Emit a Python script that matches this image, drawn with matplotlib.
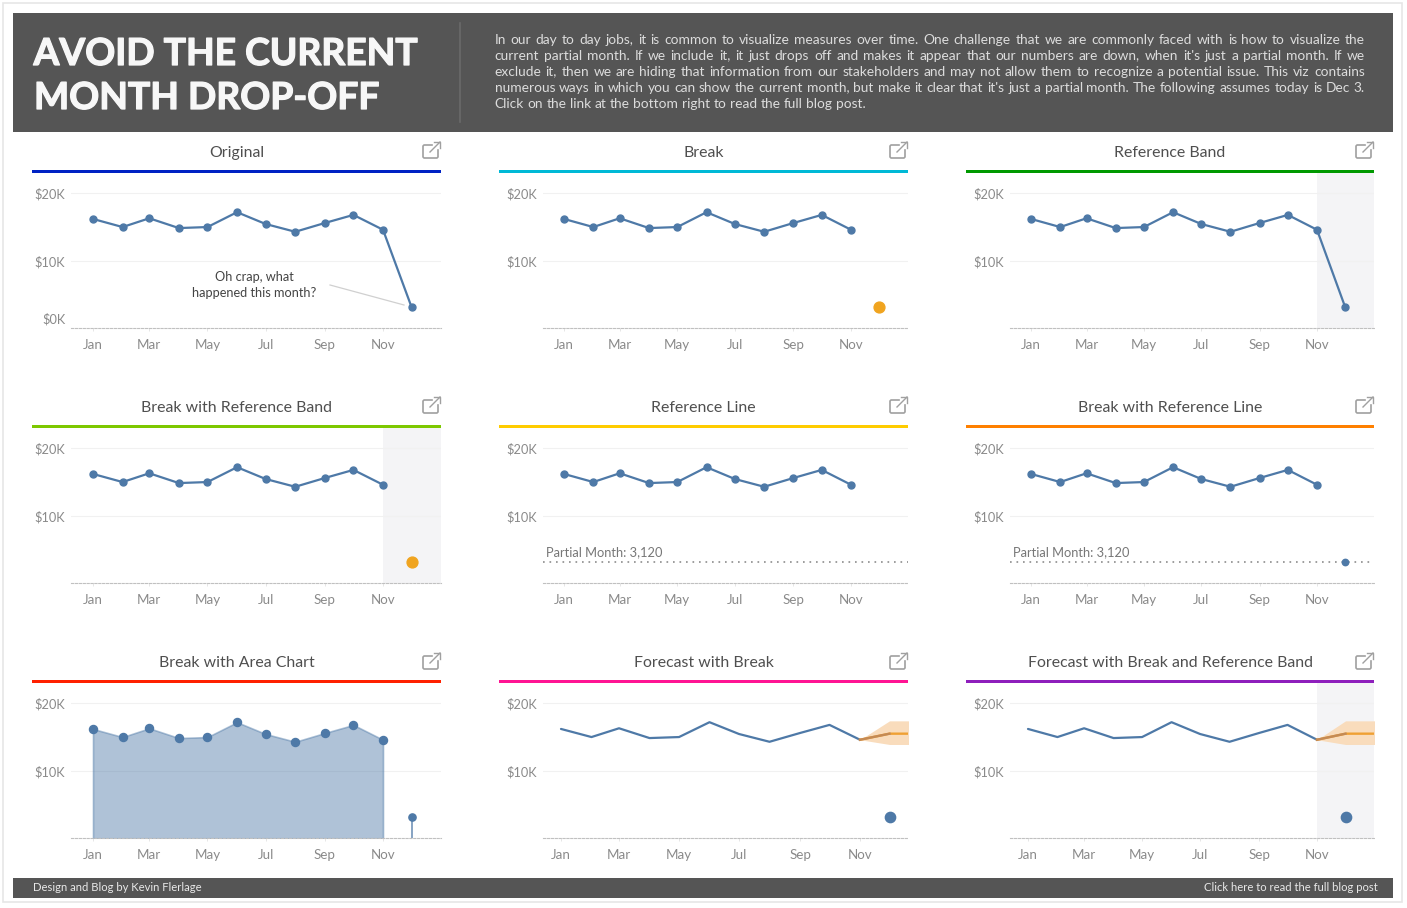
# Avoid the current month drop-off, 3x3 small multiples
import matplotlib
matplotlib.use("Agg")
import matplotlib.pyplot as plt
import matplotlib.patheffects as pe
from matplotlib.patches import Rectangle

# Data
month_days = [0, 31, 59, 90, 120, 151, 181, 212, 243, 273, 304, 334]
sales = [16.2, 15.0, 16.3, 14.85, 15.0, 17.2, 15.45, 14.3, 15.6, 16.8, 14.6, 3.12]
tick_days = [0, 59, 120, 181, 243, 304]
tick_labels = ["Jan", "Mar", "May", "Jul", "Sep", "Nov"]
forecast_days = [304, 334, 365]
forecast_mid = [14.6, 15.5, 15.5]
forecast_low = [14.6, 13.9, 13.9]
forecast_high = [14.6, 17.4, 17.4]
partial_month = 3.12

titles = ["Original", "Break", "Reference Band",
          "Break with Reference Band", "Reference Line", "Break with Reference Line",
          "Break with Area Chart", "Forecast with Break", "Forecast with Break and Reference Band"]
bar_colors = ["#0022c4", "#00b9d6", "#009900",
              "#7dc800", "#ffcc00", "#ff8000",
              "#ff2000", "#ff1493", "#8e1fbc"]

header_title = ["AVOID THE CURRENT", "MONTH DROP-OFF"]
header_lines = [
    "In our day to day jobs, it is common to visualize measures over time. One challenge that we are commonly faced with is how to visualize the",
    "current partial month. If we include it, it just drops off and makes it appear that our numbers are down, when it's just a partial month. If we",
    "exclude it, then we are hiding that information from our stakeholders and may not allow them to recognize a potential issue. This viz contains",
    "numerous ways in which you can show the current month, but make it clear that it's just a partial month. The following assumes today is Dec 3.",
    "Click on the link at the bottom right to read the full blog post.",
]

# Main Vars
W, H = 1407, 908
FONT = "Lato"
BLUE = "#4e79a7"
ORANGE = "#efa033"
DOT_ORANGE = "#f0a41f"
GREY_BAND = "#f4f4f6"
PX_PER_K = 6.75

# panel geometry, pixels: bar left, bar right, axis left, Jan x, Nov x
col_px = [(32, 441, 71, 93, 383), (499, 908, 543, 564, 851), (966, 1374, 1010, 1031, 1317)]
row_bar_top = [170, 425, 680]
row_base = [328.3, 583.3, 838.3]
row_icon_top = [142, 397, 653]

plt.rcParams["font.family"] = [FONT, "DejaVu Sans"]
fig = plt.figure(figsize=(W / 100, H / 100), dpi=100, facecolor="white")
renderer = fig.canvas.get_renderer()

# Background layer in pixel coordinates
bg = fig.add_axes([0, 0, 1, 1], zorder=-1)
bg.set_xlim(0, W)
bg.set_ylim(H, 0)
bg.axis("off")
bg.add_patch(Rectangle((3, 3), 1399, 899, fc="white", ec="#e6e6e6", lw=1.2))
bg.add_patch(Rectangle((13, 13), 1380, 119, fc="#555555", ec="none"))
bg.add_patch(Rectangle((13, 878), 1380, 20, fc="#555555", ec="none"))
bg.plot([459.5, 459.5], [23, 122], color="#6a6a6a", lw=1.2)


def BaselineText(x, y, s, **kwargs):
    '''
    Text on a fixed pixel baseline: agg places the text bitmap by its rounded
    height and descent, so words with a comma or descender would jump a pixel.
    '''
    a = bg.text(x, y, s, va="baseline", **kwargs)
    _, h, d = renderer.get_text_width_height_descent(s, a.get_fontproperties(), False)
    below = int(h) + 1 - int(h - d)
    a.set_y(y + below - d - 1)
    return a


heavy = [pe.withStroke(linewidth=0.9, foreground="#f7f7f7")]
BaselineText(33.5, 65, header_title[0], color="#f7f7f7", fontsize=26.8, fontweight="bold", path_effects=heavy)
BaselineText(34, 109, header_title[1], color="#f7f7f7", fontsize=26.8, fontweight="bold", path_effects=heavy)
BaselineText(33, 891, "Design and Blog by Kevin Flerlage", color="#e8e8e8", fontsize=8.1)
BaselineText(1378, 891, "Click here to read the full blog post", color="#e8e8e8", fontsize=8.1, ha="right")


def DrawJustifiedLine(line, y, x0, x1, justify):
    '''
    Draws one header line, spreading the words over x0..x1.
    '''
    size = 9.87
    words = line.split(" ")
    artists = [BaselineText(x0, y, w, color="#dcdcdc", fontsize=size) for w in words]
    widths = [a.get_window_extent(renderer).width for a in artists]
    probe = bg.text(x0, y, "n n", fontsize=size)
    probe2 = bg.text(x0, y, "nn", fontsize=size)
    space = probe.get_window_extent(renderer).width - probe2.get_window_extent(renderer).width
    probe.remove()
    probe2.remove()
    if justify:
        space = (x1 - x0 - sum(widths)) / (len(words) - 1)
    x = x0
    for a, w in zip(artists, widths):
        a.set_x(x)
        x += w + space


for i, line in enumerate(header_lines):
    DrawJustifiedLine(line, 44 + i * 16, 494.5, 1365, i < len(header_lines) - 1)


def DrawIcon(right, top):
    '''
    Draws the small open-in-new-window icon.
    '''
    c = "#a0a0a0"
    x0 = right - 18
    bg.plot([x0 + 9, x0 + 1, x0, x0, x0 + 1, x0 + 14, x0 + 15, x0 + 15],
            [top + 3, top + 3, top + 4, top + 15, top + 16, top + 16, top + 15, top + 8], color=c, lw=1.2)
    bg.plot([x0 + 7, x0 + 17], [top + 10, top], color=c, lw=1.0)
    bg.plot([x0 + 11, x0 + 17, x0 + 17], [top, top, top + 6], color=c, lw=1.0)


def MakePanel(row, col, jan_px=None):
    '''
    Creates one panel with its title, coloured bar and axes.
    '''
    bar_l, bar_r, ax_l, jan, nov = col_px[col]
    if jan_px is not None:
        jan, nov = jan_px
    idx = row * 3 + col
    top = row_bar_top[row]
    base = row_base[row]

    bg.add_patch(Rectangle((bar_l, top), bar_r - bar_l, 3, fc=bar_colors[idx], ec="none", antialiased=False))
    BaselineText((bar_l + bar_r) / 2, top - 13, titles[idx], color="#4f4f4f", fontsize=11.45, ha="center")
    DrawIcon(bar_r, row_icon_top[row])

    ax = fig.add_axes([ax_l / W, 1 - base / H, (bar_r - ax_l) / W, (base - top - 3) / H])
    ax.patch.set_alpha(0)
    per_day = (nov - jan) / 304
    ax.set_xlim((ax_l - jan) / per_day, (bar_r - jan) / per_day)
    ax.set_ylim(0, (base - top - 3) / PX_PER_K)
    for s in ["top", "left", "right"]:
        ax.spines[s].set_visible(False)
    ax.spines["bottom"].set_color("#c0c0c0")
    ax.spines["bottom"].set_linewidth(0.8)
    ax.spines["bottom"].set_linestyle((0, (2, 1.5)))
    ax.set_yticks([10, 20])
    ax.set_yticklabels(["$10K", "$20K"], fontsize=9.2, color="#8a8a8a", va="center_baseline")
    ax.set_xticks(tick_days)
    ax.set_xticklabels(tick_labels, fontsize=9.6, color="#8a8a8a")
    ax.tick_params(axis="y", length=0, pad=4.2)
    ax.tick_params(axis="x", length=2.5, width=0.6, color="#e2e2e2", pad=5.2)
    ax.grid(axis="y", color="#f1f1f1", lw=0.8)
    ax.set_axisbelow(True)
    return ax


def PlotLine(ax, n=11, markers=True):
    '''
    Plots the first n months as a line.
    '''
    ax.plot(month_days[:n], sales[:n], color=BLUE, lw=1.6,
            marker="o" if markers else None, ms=5.0, mec=BLUE, solid_capstyle="round", zorder=3)


def PlotDec(ax, color=BLUE, ms=7.4):
    '''
    Plots the partial month as a lone point.
    '''
    ax.plot(month_days[11:], sales[11:], color=color, marker="o", ms=ms, ls="none", zorder=4)


def PlotRefLine(ax):
    '''
    Plots the dotted partial month line and its label.
    '''
    ax.axhline(partial_month, color="#8c8c8c", lw=1.2, ls=(0, (1, 2.9)), zorder=2)
    ax.annotate("Partial Month: 3,120", (0, partial_month), xycoords=("axes fraction", "data"),
                xytext=(2.5, 3), textcoords="offset points", fontsize=9.3, color="#777777", va="bottom")


def PlotForecast(ax):
    '''
    Plots the forecast line and its confidence band.
    '''
    ax.fill_between(forecast_days, forecast_low, forecast_high, color="#f9dcbc", lw=0, zorder=2)
    ax.plot(forecast_days, forecast_mid, color=ORANGE, lw=1.7, zorder=4)
    ax.plot(forecast_days[:2], forecast_mid[:2], color="#c48a55", lw=1.7, zorder=4)


# Original
ax = MakePanel(0, 0)
PlotLine(ax, 12)
ax.annotate("$0K", (0, 0), xycoords=("axes fraction", "data"), xytext=(-4.2, 6.5), textcoords="offset points",
            fontsize=9.2, color="#8a8a8a", ha="right", va="center")
BaselineText(254.5, 281, "Oh crap, what", color="#444444", fontsize=9.2, ha="center")
BaselineText(254.5, 297, "happened this month?", color="#444444", fontsize=9.2, ha="center")
bg.plot([330, 404], [285, 305], color="#d0d0d0", lw=0.9)

# Break
ax = MakePanel(0, 1)
PlotLine(ax)
PlotDec(ax, DOT_ORANGE, 7.8)

# Reference Band
ax = MakePanel(0, 2)
ax.axvspan(304, ax.get_xlim()[1], color=GREY_BAND, lw=0, zorder=0)
PlotLine(ax, 12)

# Break with Reference Band
ax = MakePanel(1, 0)
ax.axvspan(304, ax.get_xlim()[1], color=GREY_BAND, lw=0, zorder=0)
PlotLine(ax)
PlotDec(ax, DOT_ORANGE, 7.8)

# Reference Line
ax = MakePanel(1, 1)
PlotLine(ax)
PlotRefLine(ax)

# Break with Reference Line
ax = MakePanel(1, 2)
PlotLine(ax)
PlotRefLine(ax)
PlotDec(ax, BLUE, 4.6)

# Break with Area Chart
ax = MakePanel(2, 0)
ax.fill_between(month_days[:11], sales[:11], color=BLUE, alpha=0.45, lw=1.2, zorder=2)
ax.plot(month_days[:11], sales[:11], color=BLUE, marker="o", ms=5.8, ls="none", zorder=3)
ax.vlines(month_days[11], 0, sales[11], color=BLUE, lw=1.2, alpha=0.8, zorder=2)
ax.plot(month_days[11:], sales[11:], color=BLUE, marker="o", ms=5.2, ls="none", zorder=3)

# Forecast with Break
ax = MakePanel(2, 1, jan_px=(561, 860))
PlotForecast(ax)
PlotLine(ax, markers=False)
PlotDec(ax)

# Forecast with Break and Reference Band
ax = MakePanel(2, 2, jan_px=(1028, 1317))
ax.axvspan(304, ax.get_xlim()[1], color=GREY_BAND, lw=0, zorder=0)
PlotForecast(ax)
PlotLine(ax, markers=False)
PlotDec(ax)

fig.savefig("out.png", dpi=100)
